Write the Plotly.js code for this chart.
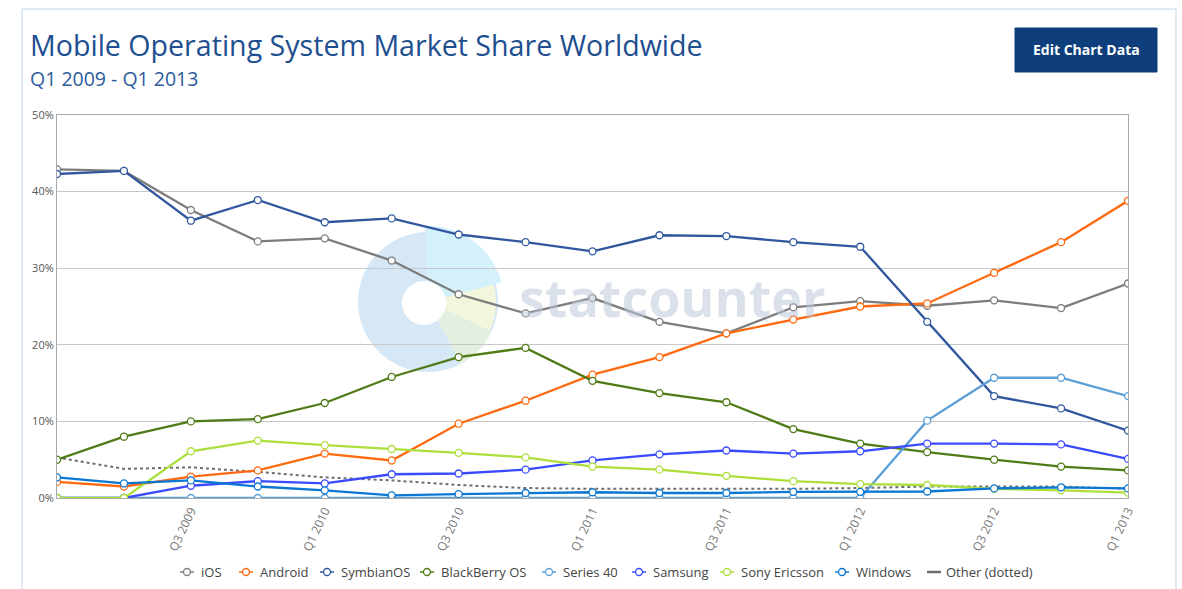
<!DOCTYPE html>
<html>
<head>
<meta charset="utf-8">
<script src="https://cdn.plot.ly/plotly-3.0.1.min.js"></script>
<style>
html,body{margin:0;padding:0;background:#ffffff;}
#chart{width:1182px;height:589px;}
</style>
</head>
<body>
<div id="chart"></div>
<script>
var quarters = ["Q1 2009","Q2 2009","Q3 2009","Q4 2009","Q1 2010","Q2 2010","Q3 2010","Q4 2010",
  "Q1 2011","Q2 2011","Q3 2011","Q4 2011","Q1 2012","Q2 2012","Q3 2012","Q4 2012","Q1 2013"];
var tickLabels = ["Q3 2009","Q1 2010","Q3 2010","Q1 2011","Q3 2011","Q1 2012","Q3 2012","Q1 2013"];
var yTickValues = [0,10,20,30,40,50];
var yTickLabels = ["0%","10%","20%","30%","40%","50%"];

var iOS          = [42.9,42.7,37.6,33.5,33.9,31.0,26.6,24.1,26.1,23.0,21.5,24.9,25.7,25.1,25.8,24.8,28.0];
var android      = [2.1,1.5,2.8,3.6,5.8,4.9,9.7,12.7,16.1,18.4,21.5,23.3,25.0,25.4,29.4,33.4,38.8];
var symbianOS    = [42.3,42.7,36.2,38.9,36.0,36.5,34.4,33.4,32.2,34.3,34.2,33.4,32.8,23.0,13.3,11.7,8.8];
var blackBerryOS = [5.0,8.0,10.0,10.3,12.4,15.8,18.4,19.6,15.3,13.7,12.5,9.0,7.1,6.0,5.0,4.1,3.6];
var series40     = [0,0,0,0,0,0,0,0,0,0,0,0,0,10.1,15.7,15.7,13.3];
var samsung      = [0,0,1.6,2.2,1.9,3.1,3.2,3.7,4.9,5.7,6.2,5.8,6.1,7.1,7.1,7.0,5.1];
var sonyEricsson = [0,0,6.1,7.5,6.9,6.4,5.9,5.3,4.1,3.7,2.9,2.2,1.8,1.7,1.2,1.0,0.7];
var windows      = [2.7,1.9,2.3,1.5,1.0,0.35,0.5,0.65,0.75,0.65,0.65,0.8,0.8,0.85,1.25,1.4,1.25];
var other        = [5.3,3.8,4.0,3.4,2.7,2.3,1.7,1.3,1.2,1.2,1.2,1.2,1.3,1.5,1.5,1.5,1.2];

var seriesNames  = ["iOS","Android","SymbianOS","BlackBerry OS","Series 40","Samsung","Sony Ericsson","Windows"];
var seriesValues = [iOS, android, symbianOS, blackBerryOS, series40, samsung, sonyEricsson, windows];
var seriesColors = ["#7d7d7d","#ff6a10","#31579f","#4f7a15","#5b9fd6","#3a4bff","#addf3c","#0a78d2"];
var otherName = "Other (dotted)", otherColor = "#6e6e6e";

var traces = [];
traces.push({
  type: "scatter", mode: "lines", name: otherName,
  x: quarters, y: other,
  line: {color: otherColor, width: 2, dash: "dot"}
});
for (var i = 0; i < seriesNames.length; i++) {
  traces.push({
    type: "scatter", mode: "lines+markers", name: seriesNames[i],
    x: quarters, y: seriesValues[i],
    line: {color: seriesColors[i], width: 2.3},
    marker: {symbol: "circle", size: 7, color: "#ffffff", line: {color: seriesColors[i], width: 1.3}},
    hoverinfo: "x+y+name"
  });
}

// plot geometry in pixels (for decoration placement)
var L = 57, R = 1128, T = 115, B = 498;
var pxPerCat = (R - L) / 16, pxPerPct = (B - T) / 50;
function dx(px){ return (px - L) / pxPerCat; }
function dy(py){ return (B - py) / pxPerPct; }
function px2paperX(px){ return (px - L) / (R - L); }
function py2paperY(py){ return (B - py) / (B - T); }

function wedge(cx, cy, r, a0, a1, n){
  var p = "M " + dx(cx) + "," + dy(cy);
  for (var j = 0; j <= n; j++){
    var a = (a0 + (a1 - a0) * j / n) * Math.PI / 180;
    p += " L " + dx(cx + r*Math.cos(a)) + "," + dy(cy - r*Math.sin(a));
  }
  return p + " Z";
}
var cx = 428, cy = 302;
var shapes = [
  {type:"path", xref:"x", yref:"y", layer:"below", path: wedge(cx,cy,70,0,360,72), fillcolor:"#d6e7f6", line:{width:0}},
  {type:"path", xref:"x", yref:"y", layer:"below", path: wedge(cx,cy,76,15,92,30), fillcolor:"#d4f0fb", line:{width:0}},
  {type:"path", xref:"x", yref:"y", layer:"below", path: wedge(cx,cy,68,-25,15,20), fillcolor:"#f2f6dc", line:{width:0}},
  {type:"path", xref:"x", yref:"y", layer:"below", path: wedge(cx,cy,70,-62,-25,20), fillcolor:"#e3efe0", line:{width:0}},
  {type:"path", xref:"x", yref:"y", layer:"below", path: wedge(cx-4,cy+1,22,0,360,48), fillcolor:"#ffffff", line:{width:0}},
  // outer container
  {type:"rect", xref:"paper", yref:"paper", x0:px2paperX(22), x1:px2paperX(1176), y0:py2paperY(640), y1:py2paperY(9),
   line:{color:"#c3d3e6", width:1}, fillcolor:"rgba(0,0,0,0)", layer:"below"},
  // button
  {type:"rect", xref:"paper", yref:"paper", x0:px2paperX(1015), x1:px2paperX(1157), y0:py2paperY(72), y1:py2paperY(28),
   line:{color:"#0e3f7c", width:1}, fillcolor:"#0e3f7c"}
];

var annotations = [
  {xref:"paper", yref:"paper", x:px2paperX(28), y:py2paperY(45), xanchor:"left", yanchor:"middle", showarrow:false,
   text:"Mobile Operating System Market Share Worldwide", font:{family:"Open Sans", size:28.6, color:"#1e4f8f"}},
  {xref:"paper", yref:"paper", x:px2paperX(28), y:py2paperY(78), xanchor:"left", yanchor:"middle", showarrow:false,
   text:"Q1 2009 - Q1 2013", font:{family:"Open Sans", size:19.5, color:"#2d5c9c"}},
  {xref:"paper", yref:"paper", x:px2paperX(1086), y:py2paperY(50), xanchor:"center", yanchor:"middle", showarrow:false,
   text:"<b>Edit Chart Data</b>", font:{family:"Open Sans", size:14, color:"#ffffff"}},
  {xref:"x", yref:"y", x:dx(672), y:dy(296), xanchor:"center", yanchor:"middle", showarrow:false,
   text:"<b>statcounter</b>", font:{family:"Open Sans", size:52, color:"rgba(190,200,218,0.55)"}}
];

// custom compact legend (positions of each entry's symbol, in pixels)
var legendY = 572;
var legendSymbolX = [187, 246, 327, 427, 549, 639, 727, 842];
var legendNames = seriesNames.concat([otherName]);
for (var m = 0; m < seriesNames.length; m++) {
  var sx = legendSymbolX[m];
  shapes.push({type:"line", xref:"paper", yref:"paper", x0:px2paperX(sx-7), x1:px2paperX(sx+7),
    y0:py2paperY(legendY), y1:py2paperY(legendY), line:{color:seriesColors[m], width:1.5}});
  shapes.push({type:"circle", xref:"paper", yref:"paper", xsizemode:"pixel", ysizemode:"pixel",
    xanchor:px2paperX(sx), yanchor:py2paperY(legendY), x0:-3.5, x1:3.5, y0:-3.5, y1:3.5,
    fillcolor:"#ffffff", line:{color:seriesColors[m], width:1.3}});
  annotations.push({xref:"paper", yref:"paper", x:px2paperX(sx+12), y:py2paperY(legendY), xanchor:"left", yanchor:"middle",
    showarrow:false, text:seriesNames[m], font:{family:"Open Sans", size:13, color:"#444"}});
}
shapes.push({type:"line", xref:"paper", yref:"paper", x0:px2paperX(927), x1:px2paperX(941),
  y0:py2paperY(legendY), y1:py2paperY(legendY), line:{color:otherColor, width:2.5}});
annotations.push({xref:"paper", yref:"paper", x:px2paperX(944), y:py2paperY(legendY), xanchor:"left", yanchor:"middle",
  showarrow:false, text:otherName, font:{family:"Open Sans", size:13, color:"#444"}});

var layout = {
  width: 1182, height: 589,
  margin: {l: L, r: 1182 - R, t: T, b: 589 - B, autoexpand: false},
  paper_bgcolor: "#ffffff", plot_bgcolor: "rgba(0,0,0,0)",
  font: {family: "Open Sans", color: "#555"},
  showlegend: false,
  xaxis: {type: "category", categoryorder: "array", categoryarray: quarters, automargin: false,
          range: [0, 16], tickmode: "array", tickvals: tickLabels, ticktext: tickLabels, tickangle: -65,
          tickfont: {size: 12, color: "#777"}, showgrid: false, showline: true, mirror: true,
          linecolor: "#a8a8a8", linewidth: 1, ticks: "", zeroline: false, fixedrange: true},
  yaxis: {range: [0, 50], automargin: false, tickmode: "array", tickvals: yTickValues, ticktext: yTickLabels,
          tickfont: {size: 11, color: "#555"}, showgrid: true, gridcolor: "#c8c8c8", gridwidth: 1,
          showline: true, mirror: true, linecolor: "#a8a8a8", linewidth: 1, zeroline: false, ticks: "", fixedrange: true},
  shapes: shapes,
  annotations: annotations,
  hovermode: "closest"
};

Plotly.newPlot("chart", traces, layout, {displayModeBar: false, responsive: false});
</script>
</body>
</html>
